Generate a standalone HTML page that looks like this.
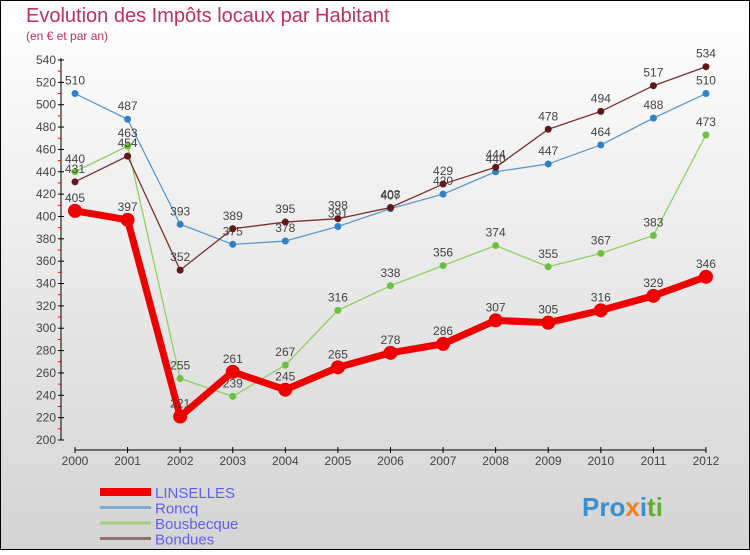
<!DOCTYPE html>
<html><head><meta charset="utf-8"><style>
body{margin:0;width:750px;height:550px;overflow:hidden}
svg text{font-family:"Liberation Sans",sans-serif}
</style></head><body>
<svg width="750" height="550" xmlns="http://www.w3.org/2000/svg">
<defs><linearGradient id="bg" x1="0" y1="0" x2="0" y2="1"><stop offset="0" stop-color="#ffffff"/><stop offset="1" stop-color="#d4d4d4"/></linearGradient></defs>
<rect x="0.5" y="0.5" width="749" height="549" fill="url(#bg)" stroke="#000"/>
<text x="26" y="22" font-size="20" fill="#c0305a">Evolution des Impôts locaux par Habitant</text>
<text x="26" y="40" font-size="12" fill="#c0305a">(en € et par an)</text>
<g id="axes"></g><g id="series"></g><g id="legend"></g>
<text x="582" y="516" font-size="26" font-weight="bold" fill="#3a8fd0">Pro<tspan fill="#f08020">x</tspan><tspan fill="#3a8fd0">i</tspan><tspan fill="#60b030">ti</tspan></text>
</svg>
<script>
const years=["2000","2001","2002","2003","2004","2005","2006","2007","2008","2009","2010","2011","2012"];
const linselles=[405,397,221,261,245,265,278,286,307,305,316,329,346];
const roncq=[510,487,393,375,378,391,407,420,440,447,464,488,510];
const bousbecque=[440,463,255,239,267,316,338,356,374,355,367,383,473];
const bondues=[431,454,352,389,395,398,408,429,444,478,494,517,534];
const yTicks=[200,220,240,260,280,300,320,340,360,380,400,420,440,460,480,500,520,540];
const NS="http://www.w3.org/2000/svg";
const x=i=>75+i*52.58, y=v=>440-(v-200)*380/340;
function mk(t,a,p){const e=document.createElementNS(NS,t);for(const k in a)e.setAttribute(k,a[k]);p.appendChild(e);return e;}
const ax=document.getElementById('axes');
let e=mk('line',{x1:61,y1:58,x2:61,y2:440,stroke:'#000'},ax);


yTicks.forEach(v=>{
 mk('line',{x1:58,y1:y(v),x2:64,y2:y(v),stroke:'#000'},ax);
 if(v<540) mk('line',{x1:58,y1:y(v+10),x2:61,y2:y(v+10),stroke:'#e00'},ax);
 const t=mk('text',{x:56,y:y(v)+4,'font-size':12,fill:'#444','text-anchor':'end'},ax);t.textContent=v;
 
 
});
e=mk('line',{x1:75,y1:450,x2:x(12),y2:450,stroke:'#000'},ax);


years.forEach((yr,i)=>{
 mk('line',{x1:x(i),y1:447,x2:x(i),y2:453,stroke:'#000'},ax);
 const t=mk('text',{x:x(i),y:465,'font-size':12,fill:'#444','text-anchor':'middle'},ax);t.textContent=yr;
 
 
});
const sg=document.getElementById('series');
const series=[[roncq,'#5b9bd0','#3080c8',1.3,3.5,'roncq'],[bousbecque,'#90d060','#70c040',1.3,3.5,'bousbecque'],[bondues,'#7a3030','#601818',1.3,3.5,'bondues'],[linselles,'#ee0000','#ee0000',7,7,'linselles']];
series.forEach(([d,c,mc,w,r,n])=>{
 const g=mk('g',{},sg);
 
 
 mk('polyline',{points:d.map((v,i)=>x(i)+','+y(v)).join(' '),fill:'none',stroke:c,'stroke-width':w,'stroke-linejoin':'round'},g);
 d.forEach((v,i)=>{
  const p=mk('circle',{cx:x(i),cy:y(v),r:r,fill:mc},g);
  
  
  const t=mk('text',{x:x(i),y:y(v)-9,'font-size':12,fill:'#444','text-anchor':'middle'},g);t.textContent=v;
  
  
 });
});
const lg=document.getElementById('legend');
[['LINSELLES','#ee0000',8],['Roncq','#80aacc',3],['Bousbecque','#a0d080',3],['Bondues','#907070',3]].forEach(([n,c,w],i)=>{
 const yy=492+i*15.5;
 const g=mk('g',{},lg);
 
 
 mk('line',{x1:100,y1:yy,x2:151,y2:yy,stroke:c,'stroke-width':w},g);
 const t=mk('text',{x:155,y:yy+6,'font-size':15,fill:'#6060f0'},g);t.textContent=n;
});
</script>
</body></html>
